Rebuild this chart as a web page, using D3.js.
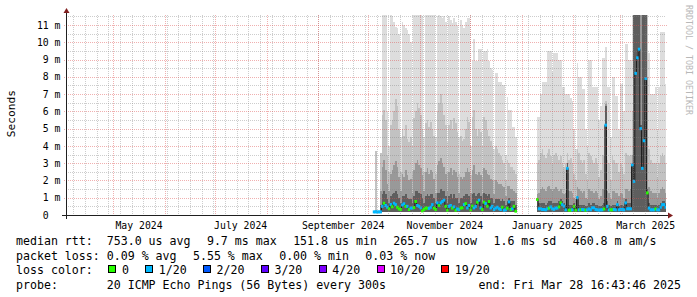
<!DOCTYPE html>
<html><head><meta charset="utf-8">
<script src="https://cdn.jsdelivr.net/npm/d3@7"></script>
<style>
body{margin:0;background:#fff}
svg{display:block}
text{font-family:"DejaVu Sans Mono",monospace;white-space:pre}
</style>
</head><body>
<svg id="c" width="697" height="297"></svg>
<script>
// ---------- data (one value per day, starting 2024-10-04, UTC) ----------
const firstDay = "2024-10-04";
const rangeStart = "2024-04-02T16:43:46Z";
const rangeEnd = "2025-03-28T16:43:46Z";
const minRtt = 0.1518; // ms, "151.8 us min"

// outer smoke (max ping), ms
const smokeHi = [
  0.2,3.7,0.22,0.22,3.6,
  12,12,12,6,4,
  12,11.5,11.2,10.9,10.8,10.5,4.5,
  11.2,11.0,10.8,10.7,10.5,10.0,4.0,
  12,12,12,12,11.8,11.5,4.5,
  12,12,12,12,12,11.6,4.5,
  11.5,11.6,11.5,11.4,11.5,11.2,4.2,
  11.5,11.3,11.1,11.4,11.2,11.0,4.5,
  11.3,11.0,10.8,11.2,11.4,11.4,4.0,
  8.9,10.2,8.9,8.9,9.6,9.6,4.0,
  9.5,9.5,9.6,8.9,8.5,8.4,3.8,
  8.2,8.2,7.7,7.7,7.5,7.5,3.5,
  6.85,6.1,6.1,5.1,5.1,4.5,
  null,null,null,null,null,null,null,null,null,null,null,null,
  5.7,5.7,7.0,7.7,7.7,7.7,9.5,9.5,9.5,8.3,9.4,9.4,9.4,9.0,9.0,7.4,7.4,
  7.0,7.0,7.0,6.8,6.6,5.0,3.8,
  8.8,8.0,8.0,7.3,7.3,5.0,4.0,
  9.0,9.0,7.4,7.4,7.4,7.4,5.5,6.3,
  9.1,9.1,9.7,7.4,7.4,4.5,
  8.0,8.0,6.9,6.9,5.0,7.6,7.6,6.0,
  9.9,9.9,9.0,9.0,
  12,12,12,12,12,12,12,12,12,12,
  9.4,7.0,7.0,7.0,7.4,5.0,7.4,10.6,10.6,10.6,7.6
];
// middle smoke, ms
const smokeMid = [
  0.2,3.7,0.2,0.2,3.6,
  5.8,6.1,5.5,3.5,2.5,
  5.2,5.5,6.0,6.7,6.3,5.0,2.5,
  5.0,4.6,5.2,4.4,4.2,4.5,2.4,
  5.6,6.0,6.5,6.2,5.8,5.0,2.5,
  5.3,5.5,5.1,5.4,5.0,4.6,2.4,
  6.0,6.5,7.0,6.4,5.8,5.2,2.5,
  5.2,5.5,5.0,5.6,5.3,4.8,2.4,
  4.6,4.3,4.4,5.0,5.7,5.4,2.3,
  5.7,6.1,5.0,4.6,5.0,4.8,2.2,
  5.7,5.5,4.9,4.6,4.3,4.0,2.0,
  4.0,3.8,3.6,3.4,3.2,3.0,2.0,
  3.2,3.0,2.8,2.8,2.6,2.4,
  null,null,null,null,null,null,null,null,null,null,null,null,
  3.0,3.2,3.6,3.8,3.5,3.3,3.6,3.8,3.4,3.0,3.5,3.6,3.4,3.2,3.4,3.0,2.8,
  3.0,3.6,3.2,3.3,3.0,2.4,2.0,
  3.8,3.6,3.2,3.0,3.2,2.4,2.0,
  3.6,3.4,3.2,3.0,3.3,3.0,2.2,2.6,
  3.5,3.5,6.6,3.2,3.0,2.0,
  3.4,3.2,3.0,3.0,2.5,3.0,2.8,2.4,
  3.6,3.5,3.4,3.5,
  6.0,12,12,12,12,12,12,12,12,12,
  3.8,3.2,3.0,3.0,3.0,2.2,3.0,3.4,3.6,3.4,3.0
];
// inner smoke, ms
const smokeLow = [
  0.2,0.3,0.2,0.2,1.4,
  2.8,3.2,2.6,1.8,1.4,
  2.4,2.6,2.9,3.1,2.8,2.2,1.4,
  2.4,2.2,2.6,2.3,2.0,2.1,1.3,
  2.6,3.0,3.2,2.9,2.7,2.3,1.4,
  2.5,2.7,2.4,2.6,2.5,2.1,1.3,
  2.9,3.1,3.3,3.0,2.8,2.4,1.4,
  2.5,2.7,2.3,2.6,2.5,2.2,1.3,
  2.2,2.1,2.2,2.5,2.7,2.5,1.3,
  2.6,2.9,2.4,2.3,2.5,2.3,1.2,
  2.7,2.6,2.4,2.3,2.1,2.0,1.2,
  2.0,1.9,1.8,1.8,1.7,1.6,1.1,
  1.7,1.7,1.5,1.5,1.4,1.3,
  null,null,null,null,null,null,null,null,null,null,null,null,
  1.2,1.3,1.5,1.6,1.5,1.4,1.6,1.7,1.5,1.4,1.5,1.6,1.5,1.4,1.5,1.3,1.2,
  1.3,3.0,1.4,1.4,1.3,1.0,0.9,
  1.6,1.5,1.4,1.3,1.4,1.0,0.9,
  1.5,1.4,1.4,1.3,1.4,1.3,0.9,1.1,
  1.5,1.5,6.4,1.4,1.3,0.9,
  1.4,1.4,1.3,1.3,1.1,1.3,1.2,1.0,
  1.5,1.5,1.4,1.5,
  3.5,12,12,12,12,12,12,12,12,8.0,
  1.6,1.4,1.3,1.3,1.3,1.0,1.3,1.5,1.6,1.5,1.3
];
// core smoke (around the median), ms
const smokeCore = [
  0.19,0.2,0.19,0.19,0.6,
  1.2,1.4,1.2,0.9,0.7,
  1.1,1.2,1.3,1.4,1.2,1.0,0.7,
  1.1,1.1,1.2,1.0,0.9,0.9,0.7,
  1.1,1.4,1.4,1.3,1.2,1.0,0.7,
  1.1,1.2,1.1,1.2,1.2,1.0,0.7,
  1.3,1.3,1.5,1.4,1.4,1.1,0.7,
  1.1,1.2,1.0,1.2,1.0,1.0,0.7,
  1.0,1.0,1.1,1.2,1.2,1.1,0.7,
  1.2,1.3,1.1,1.2,1.3,1.1,0.7,
  1.3,1.2,1.1,1.2,1.0,1.0,0.7,
  0.9,0.9,0.9,0.8,0.9,0.8,0.6,
  0.8,1.0,0.8,0.8,0.8,0.6,
  null,null,null,null,null,null,null,null,null,null,null,null,
  1.0,0.7,0.7,0.7,0.7,0.6,0.7,0.8,0.8,0.7,0.7,0.7,0.7,0.8,0.9,0.8,0.7,
  0.6,3.0,0.6,0.6,0.6,0.7,0.5,
  1.1,0.6,0.6,0.6,0.6,0.5,0.5,
  0.7,0.6,0.7,0.7,0.6,0.6,0.5,0.5,
  0.6,0.7,6.3,0.8,0.6,0.5,
  0.6,0.6,0.6,0.8,0.5,0.6,0.6,0.5,
  0.9,0.7,0.7,0.7,
  3.0,12,12,12,12,5.2,12,12,12,1.5,
  0.7,0.6,0.6,0.6,0.6,0.5,0.6,0.7,0.8,0.8,0.7
];
// median rtt, ms
const medianRtt = [
  0.18,0.18,0.18,0.18,0.18,
  0.5,0.68,0.55,0.45,0.36,
  0.61,0.48,0.68,0.6,0.45,0.35,0.32,
  0.58,0.65,0.5,0.5,0.32,0.4,0.4,
  0.43,0.78,0.55,0.5,0.41,0.24,0.32,
  0.4,0.4,0.38,0.45,0.6,0.4,0.32,
  0.7,0.55,0.7,0.78,0.86,0.5,0.28,
  0.5,0.55,0.4,0.47,0.28,0.35,0.32,
  0.4,0.42,0.6,0.66,0.41,0.55,0.3,
  0.51,0.41,0.5,0.74,0.86,0.41,0.32,
  0.74,0.66,0.51,0.78,0.41,0.5,0.32,
  0.4,0.45,0.36,0.32,0.45,0.28,0.3,
  0.4,0.76,0.32,0.36,0.5,0.22,
  null,null,null,null,null,null,null,null,null,null,null,null,
  0.9,0.36,0.36,0.32,0.32,0.3,0.36,0.4,0.47,0.36,0.33,0.4,0.4,0.47,0.7,0.6,0.51,
  0.3,2.7,0.28,0.28,0.3,0.5,0.28,
  1.0,0.3,0.3,0.32,0.3,0.28,0.3,
  0.35,0.3,0.42,0.42,0.32,0.3,0.28,0.3,
  0.3,0.35,5.2,0.5,0.3,0.3,
  0.3,0.32,0.3,0.6,0.3,0.32,0.32,0.3,
  0.7,0.36,0.36,0.36,
  2.9,1.95,8.2,9.1,9.6,5.0,2.7,4.3,7.9,1.28,
  0.4,0.3,0.3,0.3,0.35,0.3,0.3,0.45,0.6,0.6,0.45
];
// lost pings out of 20
const lossCount = [
  1,1,1,1,1,
  1,0,1,1,0,
  1,0,1,1,0,0,0,
  1,1,0,1,0,1,1,
  0,0,1,1,1,0,0,
  0,0,1,1,1,0,0,
  1,0,1,1,1,0,0,
  1,1,0,1,0,1,1,
  0,0,1,0,1,1,0,
  0,1,1,0,1,1,0,
  0,1,0,0,1,1,1,
  1,1,1,1,0,1,1,
  0,1,0,1,0,0,
  null,null,null,null,null,null,null,null,null,null,null,null,
  0,1,1,1,1,1,1,0,1,1,1,1,1,0,0,1,1,
  1,1,0,0,1,0,0,
  1,1,0,1,1,0,1,
  1,1,1,1,1,1,1,1,
  1,0,1,1,1,0,
  0,1,1,1,1,1,1,1,
  1,1,1,1,
  1,1,1,1,1,1,1,1,1,0,
  1,1,1,1,0,1,1,1,1,1,1
];

const lossThresholds = [0, 1, 2, 3, 4, 10, 19];
const lossLabels = ["0", "1/20", "2/20", "3/20", "4/20", "10/20", "19/20"];
const lossColors = ["#26ff00", "#00b8ff", "#0059ff", "#5e00ff", "#7e00ff", "#dd00ff", "#ff0000"];

const yMajorTicks = [0,1,2,3,4,5,6,7,8,9,10,11];
const yMinorTicks = [0.5,1.5,2.5,3.5,4.5,5.5,6.5,7.5,8.5,9.5,10.5,11.5];
const yMax = 11.58;

const rttStats = ["median rtt:  753.0 us avg", "9.7 ms max", "151.8 us min", "265.7 us now", "1.6 ms sd", "460.8 m am/s"];
const lossStats = ["packet loss: 0.09 % avg", "5.55 % max", "0.00 % min", "0.03 % now"];
const probeText = "probe:       20 ICMP Echo Pings (56 Bytes) every 300s";
const endText = "end: Fri Mar 28 16:43:46 2025";
const yTitle = "Seconds";
const watermark = "RRDTOOL / TOBI OETIKER";

// ---------- drawing ----------
const svg = d3.select("#c");
const X0 = 66, X1 = 666, Y0 = 215, Y1 = 15;
const x = d3.scaleUtc().domain([new Date(rangeStart), new Date(rangeEnd)]).range([X0, X1]);
const y = d3.scaleLinear().domain([0, yMax]).range([Y0, Y1]);
const day0 = new Date(firstDay + "T00:00:00Z");
const days = medianRtt.map((_, i) => ({ t0: d3.utcDay.offset(day0, i), t1: d3.utcDay.offset(day0, i + 1) }));

svg.append("rect").attr("width", 697).attr("height", 297).attr("fill", "#fff");
svg.append("defs").append("clipPath").attr("id", "pc")
  .append("rect").attr("x", X0).attr("y", Y1).attr("width", X1 - X0).attr("height", Y0 - Y1);

const gData = svg.append("g").attr("clip-path", "url(#pc)");

const bands = [
  { vals: smokeHi, color: "#dddddd" },
  { vals: smokeMid, color: "#c2c2c2" },
  { vals: smokeLow, color: "#999999" },
  { vals: smokeCore, color: "#5e5e5e" }
];
const stepPts = vals => {
  const pts = [];
  days.forEach((d, i) => { pts.push({ x: x(d.t0), v: vals[i] }); pts.push({ x: x(d.t1), v: vals[i] }); });
  return pts;
};
const area = d3.area().defined(p => p.v != null).x(p => p.x).y0(y(minRtt)).y1(p => y(p.v));
bands.forEach(b => {
  gData.append("path").attr("d", area(stepPts(b.vals))).attr("fill", b.color).attr("shape-rendering", "crispEdges");
});

// median line (thin, dark)
const line = d3.line().defined(p => p.v != null).x(p => p.x).y(p => y(p.v));
gData.append("path").attr("d", line(stepPts(medianRtt))).attr("fill", "none").attr("stroke", "#202020").attr("stroke-width", 1);

// loss-coloured median marks: a short band of 3px around the median for each day
const lossClass = c => { let k = 0; lossThresholds.forEach((t, j) => { if (c >= t) k = j; }); return k; };
gData.append("g").selectAll("rect")
  .data(days.map((d, i) => ({ d, v: medianRtt[i], c: lossCount[i] })).filter(o => o.v != null && o.c != null))
  .join("rect")
  .attr("x", o => x(o.d.t0) - 0.4)
  .attr("width", o => x(o.d.t1) - x(o.d.t0) + 0.8)
  .attr("y", o => y(o.v) - 1.5)
  .attr("height", 3)
  .attr("fill", o => lossColors[lossClass(o.c)]);

// grid (drawn over the data, translucent, dotted)
const gGrid = svg.append("g");
const px = v => Math.round(v) + 0.5;
const minorCol = "rgba(130,130,130,0.4)", majorCol = "rgba(222,79,79,0.45)";
yMinorTicks.forEach(v => gGrid.append("line").attr("x1", X0).attr("x2", X1).attr("y1", px(y(v))).attr("y2", px(y(v)))
  .attr("stroke", minorCol).attr("stroke-dasharray", "1 1"));
const weeks = d3.utcSunday.range(x.domain()[0], x.domain()[1]);
weeks.forEach(t => gGrid.append("line").attr("x1", px(x(t))).attr("x2", px(x(t))).attr("y1", Y1).attr("y2", Y0)
  .attr("stroke", minorCol).attr("stroke-dasharray", "1 1"));
yMajorTicks.filter(v => v > 0).forEach(v => gGrid.append("line").attr("x1", X0 - 2).attr("x2", X1 + 2).attr("y1", px(y(v))).attr("y2", px(y(v)))
  .attr("stroke", majorCol).attr("stroke-dasharray", "1 1"));
const months = d3.utcMonth.range(x.domain()[0], x.domain()[1]);
months.forEach(t => gGrid.append("line").attr("x1", px(x(t))).attr("x2", px(x(t))).attr("y1", Y1).attr("y2", Y0 + 2)
  .attr("stroke", majorCol).attr("stroke-dasharray", "1 1"));

// axes
const axisCol = "#1f1f1f", arrowCol = "#801f1f";
svg.append("line").attr("x1", X0 - 4).attr("x2", X1 + 4).attr("y1", Y0 + 0.5).attr("y2", Y0 + 0.5).attr("stroke", axisCol);
svg.append("line").attr("x1", X0 + 0.5).attr("x2", X0 + 0.5).attr("y1", Y0 + 4).attr("y2", Y1 - 4).attr("stroke", axisCol);
svg.append("path").attr("d", `M${X1 + 2},${Y0 - 2.5}L${X1 + 2},${Y0 + 3.5}L${X1 + 7},${Y0 + 0.5}Z`).attr("fill", arrowCol);
svg.append("path").attr("d", `M${X0 - 2.5},${Y1 - 2}L${X0 + 3.5},${Y1 - 2}L${X0 + 0.5},${Y1 - 7}Z`).attr("fill", arrowCol);

// axis labels
const axFs = 9.8, axCw = axFs * 0.6021;
yMajorTicks.forEach(v => {
  svg.append("text").attr("x", 60.5 - (v === 0 ? 2 * axCw : 0)).attr("y", y(v) + 3.6)
    .attr("text-anchor", "end").attr("font-size", axFs).attr("fill", "#000")
    .text(v === 0 ? "0" : v + " m");
});
const labelMonths = d3.utcMonth.every(2).range(x.domain()[0], x.domain()[1]);
const fmt = d3.utcFormat("%B %Y");
labelMonths.forEach(t => {
  const mid = new Date((t.getTime() + d3.utcMonth.offset(t, 1).getTime()) / 2);
  svg.append("text").attr("x", x(mid)).attr("y", 228.5).attr("text-anchor", "middle")
    .attr("font-size", axFs).attr("fill", "#000").text(fmt(t));
});
svg.append("text").attr("transform", "translate(15,113.7) rotate(-90)").attr("text-anchor", "middle")
  .attr("font-size", 11.2).attr("fill", "#000").text(yTitle);
svg.append("text").attr("transform", "translate(685.5,5) rotate(90)").attr("font-size", 8.3)
  .attr("fill", "#b8b8b8").text(watermark);

// legend
const lgFs = 11.6, gap = 16.4, lx = 16;
const rows = [245.3, 259.7, 274.1, 288.5];
const flow = (items, yy) => {
  let xx = lx;
  items.forEach(s => {
    const t = svg.append("text").attr("x", xx).attr("y", yy).attr("font-size", lgFs).attr("fill", "#000").text(s);
    xx += t.node().getComputedTextLength() + gap;
  });
};
flow(rttStats, rows[0]);
flow(lossStats, rows[1]);
{
  const t = svg.append("text").attr("x", lx).attr("y", rows[2]).attr("font-size", lgFs).attr("fill", "#000").text("loss color:");
  let xx = lx + t.node().getComputedTextLength() + gap - 0.8;
  lossLabels.forEach((lab, k) => {
    svg.append("rect").attr("x", Math.round(xx) + 0.5).attr("y", rows[2] - 8.6).attr("width", 7).attr("height", 7)
      .attr("fill", lossColors[k]).attr("stroke", "#000").attr("stroke-width", 1);
    const tt = svg.append("text").attr("x", xx + 13.5).attr("y", rows[2]).attr("font-size", lgFs).attr("fill", "#000").text(lab);
    xx += 13.5 + tt.node().getComputedTextLength() + gap;
  });
}
svg.append("text").attr("x", lx).attr("y", rows[3]).attr("font-size", lgFs).attr("fill", "#000").text(probeText);
svg.append("text").attr("x", 681).attr("y", rows[3]).attr("text-anchor", "end").attr("font-size", lgFs).attr("fill", "#000").text(endText);
</script>
</body></html>
